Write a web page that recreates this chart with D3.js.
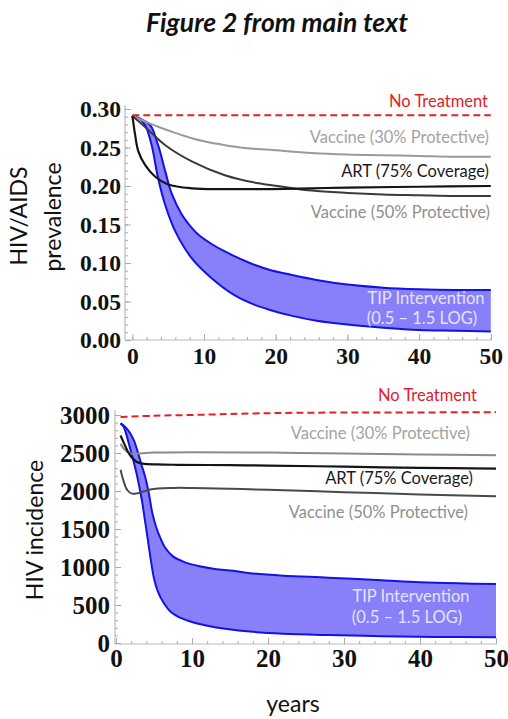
<!DOCTYPE html>
<html><head><meta charset="utf-8">
<script src="https://cdn.jsdelivr.net/npm/d3@7"></script>
<style>
html,body{margin:0;padding:0;background:#fff;}
svg{display:block;}
.lab{font-family:Lato,"Open Sans",sans-serif;}
.tick text{font-family:"Liberation Serif","Times New Roman",serif;font-weight:bold;fill:#111;}
</style></head>
<body>
<svg id="c" width="508" height="719"></svg>
<script>
// ---------- DATA ----------
const title = "Figure 2 from main text";
const xTicks = [0, 10, 20, 30, 40, 50];

// Top panel: HIV/AIDS prevalence
const prevTicks = [0, 0.05, 0.10, 0.15, 0.20, 0.25, 0.30];
const noTreatPrevT = [0, 50];
const noTreatPrev  = [0.292, 0.292];
const vac30PrevT = [0, 1, 2, 3.6, 6, 8.3, 10, 12.9, 16, 19.2, 25, 30, 35, 40, 45, 50];
const vac30Prev  = [0.291, 0.287, 0.283, 0.277, 0.269, 0.262, 0.258, 0.253, 0.249, 0.247, 0.243, 0.241, 0.240, 0.239, 0.238, 0.238];
const vac50PrevT = [0, 1, 2.2, 4.6, 8.3, 12.9, 17.6, 21, 25, 30, 35, 40, 45, 50];
const vac50Prev  = [0.291, 0.283, 0.273, 0.253, 0.232, 0.214, 0.2035, 0.199, 0.194, 0.191, 0.189, 0.188, 0.187, 0.187];
const artPrevT = [0, 0.15, 0.4, 0.84, 1.8, 3.2, 5, 8.3, 12.9, 19.2, 25, 30, 40, 50];
const artPrev  = [0.291, 0.282, 0.266, 0.245, 0.227, 0.212, 0.202, 0.197, 0.196, 0.196, 0.197, 0.198, 0.199, 0.200];
const tipHiPrevT = [0, 1, 2.5, 3.6, 4.6, 5.5, 6.9, 8, 9.2, 11, 12.9, 16.4, 19.2, 22, 25.7, 30, 35, 40, 45, 50];
const tipHiPrev  = [0.291, 0.288, 0.279, 0.253, 0.219, 0.190, 0.163, 0.149, 0.137, 0.125, 0.115, 0.100, 0.091, 0.085, 0.078, 0.072, 0.068, 0.066, 0.065, 0.065];
const tipLoPrevT = [0, 1, 1.8, 2.7, 3.6, 4.6, 6.0, 8.3, 11.1, 14.3, 17, 19.2, 22, 25.7, 30, 35, 40, 45, 50];
const tipLoPrev  = [0.291, 0.287, 0.279, 0.253, 0.210, 0.175, 0.141, 0.106, 0.080, 0.058, 0.046, 0.039, 0.032, 0.025, 0.020, 0.016, 0.013, 0.012, 0.011];

// Bottom panel: HIV incidence
const incTicks = [0, 500, 1000, 1500, 2000, 2500, 3000];
const noTreatIncT = [0.6, 5, 12, 18, 25, 50];
const noTreatInc  = [2975, 2990, 3005, 3020, 3030, 3035];
const vac30IncT = [0.6, 1, 1.5, 2, 3, 5, 10, 20, 30, 40, 50];
const vac30Inc  = [2620, 2560, 2510, 2490, 2495, 2505, 2510, 2505, 2495, 2480, 2470];
const artIncT = [0.6, 1, 1.5, 2, 2.7, 3.5, 5.4, 8, 15, 20, 30, 40, 50];
const artInc  = [2730, 2640, 2530, 2450, 2385, 2360, 2350, 2345, 2340, 2335, 2320, 2305, 2295];
const vac50IncT = [0.6, 1, 1.5, 2.1, 3, 4.5, 7.5, 10, 15, 20, 30, 40, 50];
const vac50Inc  = [2280, 2130, 2010, 1965, 1975, 2020, 2040, 2040, 2030, 2015, 1985, 1955, 1930];
const tipHiIncT = [0.6, 1.4, 2.3, 2.9, 3.4, 3.8, 4.3, 4.8, 5.3, 5.8, 6.5, 7.5, 9, 11, 13, 15.4, 18, 22, 28, 35, 40, 45, 50];
const tipHiInc  = [2890, 2825, 2680, 2500, 2330, 2200, 1980, 1700, 1520, 1390, 1250, 1140, 1065, 1010, 975, 950, 915, 885, 860, 825, 800, 785, 775];
const tipLoIncT = [0.6, 1, 1.8, 2.7, 3.4, 3.8, 4.2, 4.6, 5.0, 5.5, 6.2, 7.3, 8.5, 10.2, 12, 14.6, 17.6, 22, 28, 35, 42, 50];
const tipLoInc  = [2890, 2846, 2583, 2233, 1882, 1619, 1350, 1080, 850, 680, 540, 400, 330, 270, 228, 185, 150, 122, 104, 90, 80, 75];

const seriesLabels = {
  none: "No Treatment",
  vac30: "Vaccine (30% Protective)",
  art: "ART (75% Coverage)",
  vac50: "Vaccine (50% Protective)",
  tip1: "TIP Intervention",
  tip2: "(0.5 \u2013 1.5 LOG)"
};

// ---------- DRAW ----------
const svg = d3.select("#c");
const zip = (t, v) => t.map((d, i) => [d, v[i]]);

svg.append("text").attr("class","lab")
  .attr("x", 277).attr("y", 32).attr("text-anchor","middle")
  .style("font-weight","bold").style("font-style","italic").style("font-size","26.5px")
  .attr("fill","#111").text(title);

function panel(cfg) {
  const g = svg.append("g");
  const x = d3.scaleLinear().domain([0, 50]).range(cfg.xr);
  const y = d3.scaleLinear().domain(cfg.yd).range(cfg.yr);
  const line = d3.line().x(d => x(d[0])).y(d => y(d[1])).curve(d3.curveCatmullRom.alpha(0.5));

  // frame
  g.append("line").attr("x1", cfg.fx).attr("x2", cfg.fx).attr("y1", cfg.ftop).attr("y2", cfg.fy)
    .attr("stroke", "#bbb").attr("stroke-width", 1.2);
  g.append("line").attr("x1", cfg.fx).attr("x2", cfg.fxr).attr("y1", cfg.fy).attr("y2", cfg.fy)
    .attr("stroke", "#bbb").attr("stroke-width", 1.2);

  // minor ticks
  const gyMin = g.append("g").attr("transform", `translate(${cfg.fx},0)`)
    .call(d3.axisLeft(y).tickValues(d3.range(cfg.yd[0], cfg.yd[1] + cfg.minorY/2, cfg.minorY)).tickSize(-3).tickFormat(""));
  const gxMin = g.append("g").attr("transform", `translate(0,${cfg.fy})`)
    .call(d3.axisBottom(x).tickValues(d3.range(0, 51, 2)).tickSize(-3).tickFormat(""));
  // major ticks
  const gy = g.append("g").attr("transform", `translate(${cfg.fx},0)`)
    .call(d3.axisLeft(y).tickValues(cfg.yTicks).tickSize(-6).tickPadding(cfg.ypad).tickFormat(cfg.yfmt));
  const gx = g.append("g").attr("transform", `translate(0,${cfg.fy})`)
    .call(d3.axisBottom(x).tickValues(xTicks).tickSize(-6).tickPadding(cfg.xpad).tickFormat(d3.format("d")));
  [gyMin, gxMin, gy, gx].forEach(a => {
    a.select(".domain").remove();
    a.selectAll("line").attr("stroke", "#aaa");
    a.selectAll("text").style("font-size", cfg.tickFont + "px");
  });

  // TIP band
  const hi = zip(cfg.tipHiT, cfg.tipHi), lo = zip(cfg.tipLoT, cfg.tipLo);
  const band = line(hi) + line(lo.slice().reverse()).replace(/^M/, "L") + "Z";
  g.append("path").attr("d", band).attr("fill", "#8880f8").attr("stroke", "none");
  g.append("path").attr("d", line(hi)).attr("fill", "none").attr("stroke", "#1212e6").attr("stroke-width", 2);
  g.append("path").attr("d", line(lo)).attr("fill", "none").attr("stroke", "#1212e6").attr("stroke-width", 2);

  // lines
  g.append("path").attr("d", line(zip(cfg.vac30T, cfg.vac30))).attr("fill","none").attr("stroke", cfg.c30).attr("stroke-width", 2);
  g.append("path").attr("d", line(zip(cfg.vac50T, cfg.vac50))).attr("fill","none").attr("stroke", cfg.c50).attr("stroke-width", 2);
  g.append("path").attr("d", line(zip(cfg.artT, cfg.art))).attr("fill","none").attr("stroke", "#151515").attr("stroke-width", 2.2);
  g.append("path").attr("d", line(zip(cfg.noneT, cfg.none))).attr("fill","none").attr("stroke", "#e3202a")
    .attr("stroke-width", 2).attr("stroke-dasharray", "7,4");

  // labels
  const L = cfg.labels;
  const txt = (p, s, col, anchor) => g.append("text").attr("class","lab").attr("x", p[0]).attr("y", p[1])
    .attr("dy", "0.35em").attr("text-anchor", anchor).attr("fill", col).style("font-size", cfg.labFont + "px").text(s);
  txt(L.none, seriesLabels.none, "#e3202a", "end");
  txt(L.vac30, seriesLabels.vac30, "#a3a3a3", "end");
  txt(L.art, seriesLabels.art, "#1a1a1a", "end");
  txt(L.vac50, seriesLabels.vac50, "#8f8f8f", "end");
  txt(L.tip1, seriesLabels.tip1, "#e4e4ff", "middle");
  txt(L.tip2, seriesLabels.tip2, "#e4e4ff", "middle");

  // axis title
  cfg.ytitles.forEach(t => {
    g.append("text").attr("class","lab").attr("transform", `translate(${t.x},${t.y}) rotate(-90)`)
      .attr("text-anchor","middle").attr("fill","#111").style("font-size", cfg.titleFont + "px").text(t.s);
  });
}

panel({
  xr: [132.3, 490.8], yd: [0, 0.30], yr: [340, 109],
  fx: 125, fxr: 492, fy: 340, ftop: 105,
  minorY: 0.01, yTicks: prevTicks, yfmt: d3.format(".2f"), ypad: 4, xpad: 7, tickFont: 23.5,
  noneT: noTreatPrevT, none: noTreatPrev,
  vac30T: vac30PrevT, vac30: vac30Prev, vac50T: vac50PrevT, vac50: vac50Prev,
  artT: artPrevT, art: artPrev,
  tipHiT: tipHiPrevT, tipHi: tipHiPrev, tipLoT: tipLoPrevT, tipLo: tipLoPrev,
  c30: "#9a9a9a", c50: "#3a3a3a",
  labFont: 16.5,
  labels: { none: [488, 101], vac30: [489, 137], art: [489, 171], vac50: [490, 212], tip1: [426, 298], tip2: [422, 318] },
  titleFont: 23,
  ytitles: [{ s: "HIV/AIDS", x: 27, y: 216 }, { s: "prevalence", x: 61, y: 217 }]
});

panel({
  xr: [116, 496], yd: [0, 3000], yr: [643, 415],
  fx: 115, fxr: 497, fy: 644, ftop: 410,
  minorY: 100, yTicks: incTicks, yfmt: d3.format("d"), ypad: 5, xpad: 5, tickFont: 25,
  noneT: noTreatIncT, none: noTreatInc,
  vac30T: vac30IncT, vac30: vac30Inc, vac50T: vac50IncT, vac50: vac50Inc,
  artT: artIncT, art: artInc,
  tipHiT: tipHiIncT, tipHi: tipHiInc, tipLoT: tipLoIncT, tipLo: tipLoInc,
  c30: "#8a8a8a", c50: "#4a4a4a",
  labFont: 16.5,
  labels: { none: [477, 395], vac30: [470, 433], art: [473, 478], vac50: [468, 512], tip1: [411, 596], tip2: [407, 617] },
  titleFont: 23,
  ytitles: [{ s: "HIV incidence", x: 43, y: 530 }]
});

svg.append("text").attr("class","lab").attr("x", 293).attr("y", 712).attr("text-anchor","middle")
  .attr("fill","#111").style("font-size","23px").text("years");
</script>
</body></html>
